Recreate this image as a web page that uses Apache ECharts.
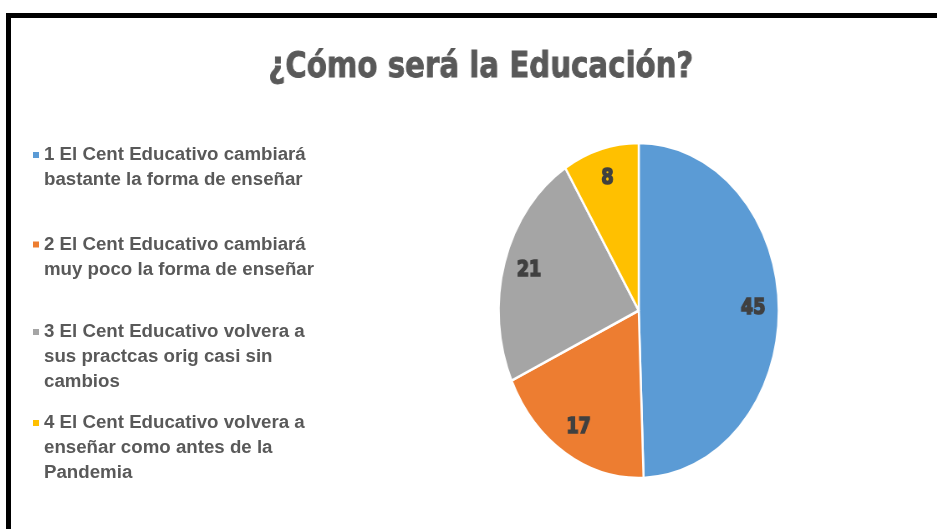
<!DOCTYPE html>
<html>
<head>
<meta charset="utf-8">
<title>¿Cómo será la Educación?</title>
<script src="https://cdn.jsdelivr.net/npm/echarts@6/dist/echarts.min.js"></script>
<style>
html,
body {
  margin: 0;
  padding: 0;
  background: #fff;
}
.page {
  position: relative;
  width: 937px;
  height: 529px;
  overflow: hidden;
}
.frame {
  position: absolute;
  left: 6px;
  top: 13px;
  width: 980px;
  height: 560px;
  border-top: 5px solid #000;
  border-left: 5px solid #000;
}
/* the pie in the reference is a tall ellipse, so this chart is squeezed sideways */
.pieBox {
  position: absolute;
  left: 0;
  top: 0;
  width: 1121px;
  height: 529px;
  transform: scaleX(0.836);
  transform-origin: 0 0;
}
.legendBox {
  position: absolute;
  left: 0;
  top: 0;
  width: 420px;
  height: 529px;
}
</style>
</head>
<body>
<div class="page">
  <div class="frame"></div>
  <div class="pieBox" id="pieChart"></div>
  <div class="legendBox" id="legendChart"></div>
</div>
<script>
const titleText = '¿Cómo será la Educación?'
const categories = [
  '1 El Cent Educativo cambiará\nbastante la forma de enseñar',
  '2 El Cent Educativo cambiará\nmuy poco la forma de enseñar',
  '3 El Cent Educativo volvera a\nsus practcas orig casi sin\ncambios',
  '4 El Cent Educativo volvera a\nenseñar como antes de la\nPandemia',
]
const values = [45, 17, 21, 8]
const colors = ['#5b9bd5', '#ed7d31', '#a5a5a5', '#ffc000']

const pieData = categories.map((name, i) => ({ name: name, value: values[i] }))

// first line centre of every legend entry
const legendLineY = [155, 244.5, 332, 423]
const legendLineH = 25

function getPieChart() {
  const pieChart = echarts.init(document.getElementById('pieChart'))
  const R = 167.5
  const center = [764, 310.5]
  pieChart.setOption({
    color: colors,
    animation: false,
    title: {
      text: titleText,
      left: 316,
      top: 45,
      textStyle: {
        fontFamily: 'DejaVu Sans',
        fontWeight: 'bold',
        fontSize: 35,
        color: '#595959',
        textBorderColor: '#555',
        textBorderWidth: 0.8,
      },
    },
    tooltip: {
      trigger: 'item',
    },
    series: [
      {
        name: 'Educación',
        type: 'pie',
        center: center,
        radius: R,
        startAngle: 90,
        clockwise: true,
        data: pieData,
        itemStyle: {
          borderColor: '#fff',
          borderWidth: 2.5,
        },
        label: { show: false },
        labelLine: { show: false },
        emphasis: { scale: false },
      },
      {
        // invisible ring that only carries the value labels, at 0.8 of the radius
        name: 'Educación',
        type: 'pie',
        center: center,
        radius: [R * 0.6, R],
        startAngle: 90,
        clockwise: true,
        silent: true,
        data: pieData,
        itemStyle: {
          color: 'rgba(0,0,0,0)',
          borderWidth: 0,
        },
        label: {
          show: true,
          position: 'inside',
          formatter: '{c}',
          fontFamily: 'DejaVu Sans',
          fontWeight: 'bold',
          fontSize: 21,
          color: '#404040',
          textBorderColor: '#404040',
          textBorderWidth: 1.6,
        },
        labelLine: { show: false },
      },
    ],
  })
  return pieChart
}

function getLegendChart() {
  const legendChart = echarts.init(document.getElementById('legendChart'))
  const legends = categories.map((name, i) => {
    const n = name.split('\n').length
    return {
      orient: 'vertical',
      left: 33,
      top: legendLineY[i] - ((2 * n - 1) * legendLineH) / 2,
      padding: 0,
      itemWidth: 6,
      itemHeight: 6,
      icon: 'rect',
      data: [name],
      // blank lines on top keep the marker beside the first line of text
      formatter: (text) => '\n'.repeat(n - 1) + text,
      textStyle: {
        fontFamily: 'Liberation Sans, Arial, sans-serif',
        fontWeight: 'bold',
        fontSize: 18.7,
        color: '#595959',
        lineHeight: legendLineH,
      },
    }
  })
  legendChart.setOption({
    color: colors,
    animation: false,
    legend: legends,
    series: [
      {
        name: 'Educación',
        type: 'pie',
        radius: 0,
        center: [-50, -50],
        silent: true,
        data: pieData,
        label: { show: false },
        labelLine: { show: false },
      },
    ],
  })
  return legendChart
}

const pieChart = getPieChart()
const legendChart = getLegendChart()
echarts.connect([pieChart, legendChart])
</script>
</body>
</html>
